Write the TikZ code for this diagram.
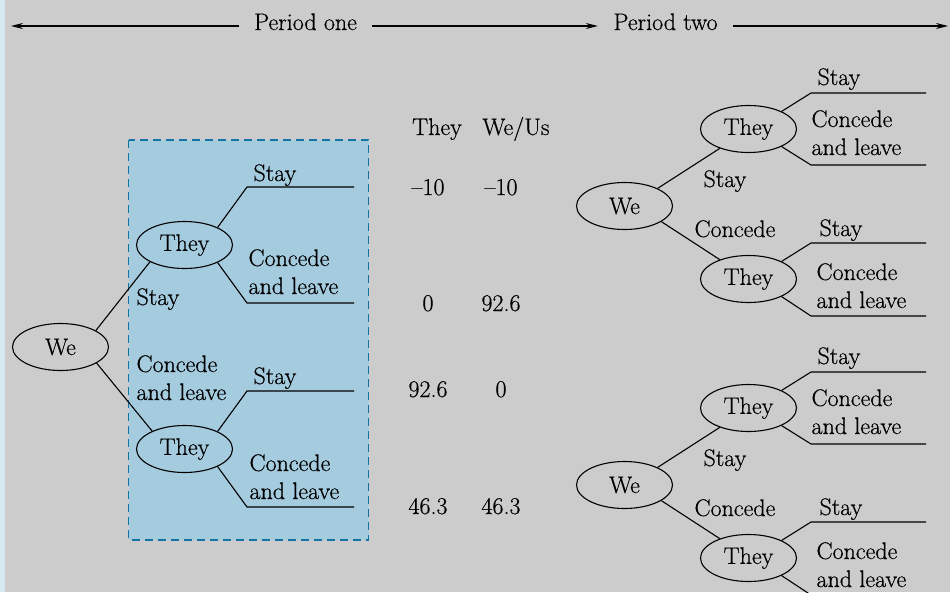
\documentclass[tikz,border=0pt]{standalone}
\usepackage{fontspec}
\newfontfamily\gamefont{Latin Modern Roman}[FakeBold=0.5]
\usetikzlibrary{shapes.geometric,arrows.meta,positioning}

\definecolor{panelgray}{RGB}{204,204,204}
\definecolor{pageedge}{RGB}{214,232,242}
\definecolor{boxfill}{RGB}{165,203,223}
\definecolor{boxline}{RGB}{20,115,165}

\begin{document}
\begin{tikzpicture}[x=1pt,y=-1pt,>={Stealth[length=12pt,width=6pt]},line width=1.1pt,node distance=124pt,
    every node/.style={font=\gamefont\fontsize{24}{28}\selectfont},
    player node/.style={ellipse,draw,minimum width=96pt,minimum height=47pt,inner sep=0pt},
    move/.style={anchor=base west,inner sep=0pt,align=left},
    payoff/.style={anchor=base,inner sep=0pt},
    period/.style={inner xsep=15pt,inner ysep=0pt,text height=14pt,text depth=6pt}]

    \useasboundingbox (0,0) rectangle (950,592);
    \fill[panelgray] (0,0) rectangle (950,592);
    \fill[pageedge] (0,0) rectangle (5,592);

    % time line
    \coordinate (hl) at (11,26);
    \coordinate (hr) at (948,26);
    \node[period] (P1) at (305.5,26) {Period one};
    \node[period] (P2) at (665.5,26) {Period two};
    \draw[<-] (hl) -- (P1);
    \draw[->] (P1) -- (P2);
    \draw[->] (P2) -- (hr);

    % period one
    \draw[boxline,fill=boxfill,dash pattern=on 8pt off 5pt] (128.7,140) rectangle (368.7,540);

    \node[player node] (We1) at (60.5,347) {We};
    \node[player node] (They1) [right of = We1, yshift=102pt] {They};
    \node[player node] (They2) [right of = We1, yshift=-102pt] {They};

    \coordinate (s1) at (354,187);
    \coordinate (c1) at (354,303);
    \coordinate (s2) at (354,391);
    \coordinate (c2) at (354,507);

    \draw (We1.25) -- (They1.206);
    \draw (We1.-24) -- (They2.151);
    \draw (They1.28) -- ([xshift=-107pt]s1) -- (s1);
    \draw (They1.-28) -- ([xshift=-107pt]c1) -- (c1);
    \draw (They2.28) -- ([xshift=-107pt]s2) -- (s2);
    \draw (They2.-28) -- ([xshift=-107pt]c2) -- (c2);

    % two-line labels sit on the baseline of their last line
    \node[move] (m1) at (136,305) {Stay};
    \node[move] (m2) at (136,400) {Concede\\and leave};
    \node[move] (m3) at (253,181) {Stay};
    \node[move] (m4) at (248,294) {Concede\\and leave};
    \node[move] (m5) at (253,384) {Stay};
    \node[move] (m6) at (249,499) {Concede\\and leave};

    % payoffs
    \node[payoff] (hThey) at (437,135) {They};
    \node[payoff] (hUs) at (516,135) {We/Us};
    \node[payoff] (a1) at (428,195) {–10};
    \node[payoff] (b1) at (501,195) {–10};
    \node[payoff] (a2) at (428,311) {0};
    \node[payoff] (b2) at (501,311) {92.6};
    \node[payoff] (a3) at (428,397) {92.6};
    \node[payoff] (b3) at (501,397) {0};
    \node[payoff] (a4) at (428,514) {46.3};
    \node[payoff] (b4) at (501,514) {46.3};

    % period two, upper tree
    \node[player node] (We3) at (624.5,206) {We};
    \node[player node] (They3) [right of = We3, yshift=77pt] {They};
    \node[player node] (They4) [right of = We3, yshift=-73pt] {They};

    \coordinate (s3) at (926,93);
    \coordinate (c3) at (926,165);
    \coordinate (s4) at (926,243);
    \coordinate (c4) at (926,316);

    \draw (We3.28) -- (They3.214);
    \draw (We3.-23) -- (They4.146);
    \draw (They3.28) -- ([xshift=-115pt]s3) -- (s3);
    \draw (They3.-28) -- ([xshift=-115pt]c3) -- (c3);
    \draw (They4.28) -- ([xshift=-115pt]s4) -- (s4);
    \draw (They4.-28) -- ([xshift=-115pt]c4) -- (c4);

    \node[move] (m7) at (703,187) {Stay};
    \node[move] (m8) at (694,237) {Concede};
    \node[move] (m9) at (817,85) {Stay};
    \node[move] (m10) at (811,155) {Concede\\and leave};
    \node[move] (m11) at (819,236) {Stay};
    \node[move] (m12) at (816,308) {Concede\\and leave};

    % period two, lower tree
    \node[player node] (We4) at (624.5,485) {We};
    \node[player node] (They5) [right of = We4, yshift=77pt] {They};
    \node[player node] (They6) [right of = We4, yshift=-73pt] {They};

    \coordinate (s5) at (926,372);
    \coordinate (c5) at (926,444);
    \coordinate (s6) at (926,522);
    \coordinate (c6) at (926,595);

    \draw (We4.28) -- (They5.214);
    \draw (We4.-23) -- (They6.146);
    \draw (They5.28) -- ([xshift=-115pt]s5) -- (s5);
    \draw (They5.-28) -- ([xshift=-115pt]c5) -- (c5);
    \draw (They6.28) -- ([xshift=-115pt]s6) -- (s6);
    \draw (They6.-28) -- ([xshift=-115pt]c6) -- (c6);

    \node[move] (m13) at (703,466) {Stay};
    \node[move] (m14) at (694,516) {Concede};
    \node[move] (m15) at (817,364) {Stay};
    \node[move] (m16) at (811,434) {Concede\\and leave};
    \node[move] (m17) at (819,515) {Stay};
    \node[move] (m18) at (816,587) {Concede\\and leave};
\end{tikzpicture}
\end{document}
